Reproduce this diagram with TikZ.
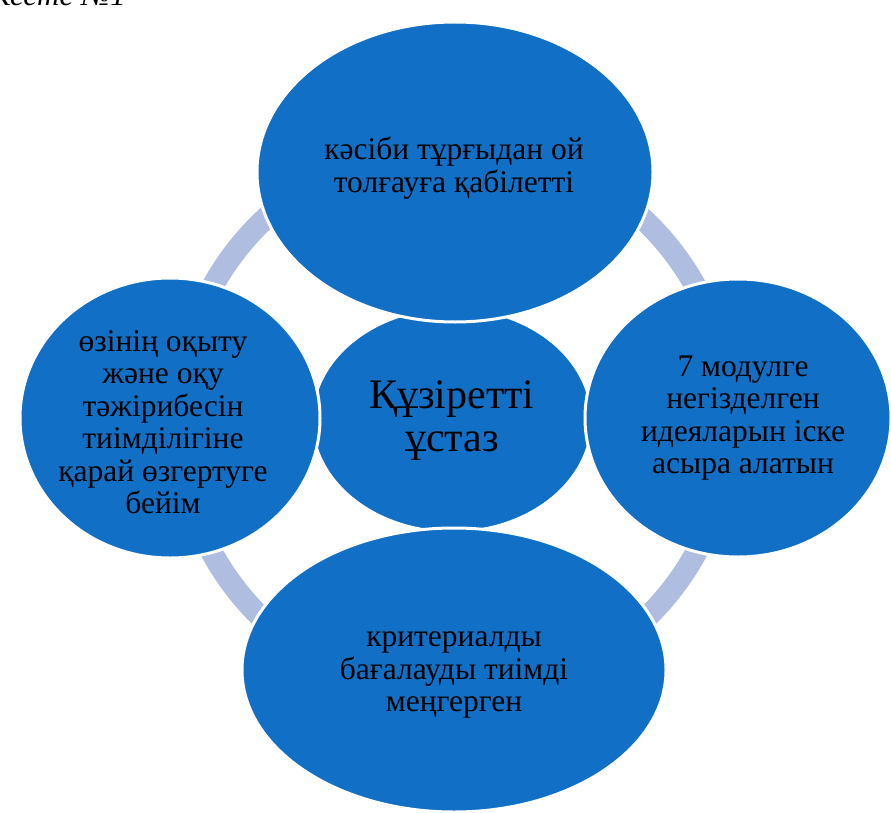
\documentclass[tikz,border=0pt]{standalone}
\usepackage{fontspec}
\setmainfont{Liberation Serif}
\definecolor{petal}{HTML}{1170C6}
\definecolor{ringc}{HTML}{AFBDE0}
\tikzset{
  petalshape/.style={ellipse, fill=petal, draw=white, line width=3bp, inner sep=0pt},
  ptext/.style={align=center, font=\fontsize{31.5bp}{32.5bp}\selectfont, text=black},
  ctext/.style={align=center, font=\fontsize{42bp}{43bp}\selectfont, text=black},
}
\usetikzlibrary{shapes.geometric}
\begin{document}
\begin{tikzpicture}[x=1bp,y=-1bp]
\useasboundingbox (0,0) rectangle (891,813);
% ring
\draw[ringc, line width=22bp] (454,420) circle[radius=276bp];
% center
\node[petalshape, minimum width=280bp, minimum height=224bp] (c) at (452,420) {};
% outer petals
\node[petalshape, minimum width=396bp, minimum height=300bp] (t) at (455,172) {};
\node[petalshape, minimum width=300bp, minimum height=280bp] (l) at (170,418) {};
\node[petalshape, minimum width=306bp, minimum height=278bp] (r) at (738,418) {};
\node[petalshape, minimum width=424bp, minimum height=284bp] (b) at (454,670) {};
% texts
\node[ctext] (ct) at (452,421) {Құзіретті\\ұстаз};
\node[ptext] (tt) at (454,168) {кәсіби тұрғыдан ой\\толғауға қабілетті};
\node[ptext] (lt) at (163,422) {өзінің оқыту\\және оқу\\тәжірибесін\\тиімділігіне\\қарай өзгертуге\\бейім};
\node[ptext] (rt) at (743,418) {7 модулге\\негізделген\\идеяларын іске\\асыра алатын};
\node[ptext] (bt) at (454,675) {критериалды\\бағалауды тиімді\\меңгерген};
% header (cut off at top edge, as in the reference)
\node[anchor=base east, inner sep=0pt, font=\fontsize{31bp}{32bp}\selectfont\itshape] (hdr) at (126,6) {Кесте №1};
\end{tikzpicture}
\end{document}
